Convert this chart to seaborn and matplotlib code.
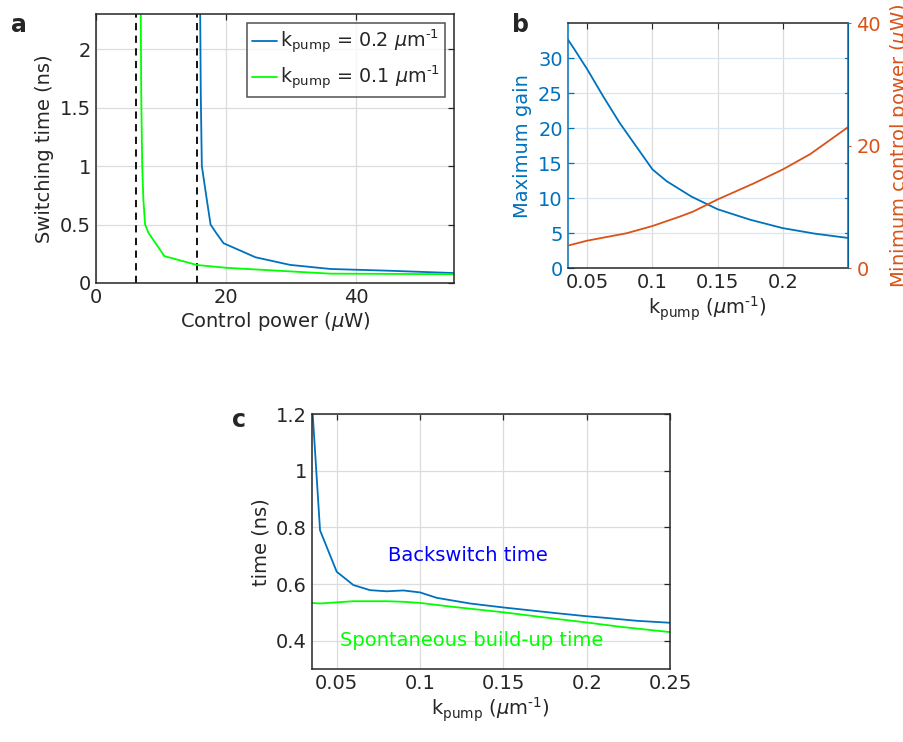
import numpy as np
import pandas as pd
import matplotlib
matplotlib.use("Agg")
import matplotlib.pyplot as plt
import seaborn as sns

sns.set_style("white")
plt.rcParams["font.family"] = ["DejaVu Sans"]
plt.rcParams["mathtext.fontset"] = "dejavusans"

# ------------------------------------------
# DATA
# ------------------------------------------

# panel a: switching time vs control power
power_k02 = [16.0, 16.1, 16.26, 16.5, 17.03, 17.6, 18.5, 19.6, 24.5, 29.8, 36.0, 45.0, 55.0]
switch_k02 = [2.35, 1.6, 1.0, 0.91, 0.71, 0.5, 0.425, 0.34, 0.22, 0.155, 0.12, 0.105, 0.085]
power_k01 = [6.87, 6.95, 7.1, 7.28, 7.54, 8.05, 10.5, 15.5, 20.0, 28.0, 36.0, 45.0, 55.0]
switch_k01 = [2.35, 1.6, 1.0, 0.71, 0.5, 0.43, 0.23, 0.154, 0.13, 0.105, 0.08, 0.078, 0.075]
threshold_power = [6.2, 15.5]

# panel b: max gain and min control power vs k_pump
k_gain = [0.035, 0.040, 0.050, 0.062, 0.075, 0.100, 0.111, 0.130, 0.150, 0.175, 0.200, 0.225, 0.250]
max_gain = [32.7, 31.3, 28.4, 24.6, 20.7, 14.1, 12.4, 10.2, 8.4, 6.9, 5.7, 4.9, 4.3]
k_power = [0.035, 0.050, 0.080, 0.100, 0.121, 0.131, 0.150, 0.1775, 0.200, 0.221, 0.250]
min_power = [3.65, 4.47, 5.67, 6.86, 8.4, 9.2, 11.2, 13.8, 16.1, 18.6, 23.0]

# panel c: backswitch and spontaneous build-up time vs k_pump
k_back = [0.035, 0.0356, 0.04, 0.05, 0.06, 0.07, 0.08, 0.09, 0.10, 0.11, 0.13, 0.15, 0.18, 0.20, 0.21, 0.23, 0.25]
back_time = [1.3, 1.2, 0.79, 0.644, 0.597, 0.579, 0.575, 0.578, 0.571, 0.552, 0.532, 0.518, 0.499, 0.487, 0.482, 0.471, 0.464]
k_spont = [0.035, 0.04, 0.06, 0.08, 0.09, 0.10, 0.12, 0.15, 0.18, 0.20, 0.22, 0.25]
spont_time = [0.534, 0.532, 0.54, 0.54, 0.538, 0.534, 0.52, 0.501, 0.479, 0.465, 0.45, 0.431]

BLUE = "#0072BD"
ORANGE = "#D95319"
GREEN = "#00FF00"
DARK = "#262626"
FS = 14
KPUMP = r"k$_{\mathrm{pump}}$"
INV_UM = r"$\mu$m$^{\text{-1}}$"

fig = plt.figure(figsize=(9.04, 7.42), dpi=100)


def style_axes(ax):
    ax.grid(True, color="#dcdcdc", lw=0.9)
    ax.set_axisbelow(True)
    ax.tick_params(direction="in", top=True, right=True, length=4,
                   labelsize=FS, colors=DARK, width=0.9)
    for s in ax.spines.values():
        s.set_color(DARK)
        s.set_linewidth(1.1)


def draw(ax, x, y, color, label=None):
    d = pd.DataFrame({"x": x, "y": y})
    sns.lineplot(data=d, x="x", y="y", ax=ax, color=color, lw=1.3,
                 sort=False, estimator=None, label=label)


# ------------------------------------------
# PANEL a
# ------------------------------------------
ax_a = fig.add_axes([0.1062, 0.6186, 0.396, 0.3625])
style_axes(ax_a)
for xv in threshold_power:
    ax_a.axvline(xv, color="black", ls=(0, (4, 3)), lw=1.3)
draw(ax_a, power_k02, switch_k02, BLUE, KPUMP + " = 0.2 " + INV_UM)
draw(ax_a, power_k01, switch_k01, GREEN, KPUMP + " = 0.1 " + INV_UM)
ax_a.set_xlim(0, 55)
ax_a.set_ylim(0, 2.3)
ax_a.set_xticks([0, 20, 40])
ax_a.set_yticks([0, 0.5, 1, 1.5, 2])
ax_a.set_yticklabels(["0", "0.5", "1", "1.5", "2"])
ax_a.set_xlabel(r"Control power ($\mu$W)", fontsize=FS, color=DARK, labelpad=2)
ax_a.set_ylabel("Switching time (ns)", fontsize=FS, color=DARK, labelpad=4)
leg = ax_a.legend(loc="upper right", fontsize=13.8, frameon=True, fancybox=False,
                  handlelength=1.3, handletextpad=0.12, borderpad=0.3,
                  labelspacing=0.38, borderaxespad=0.45)
leg.get_frame().set_edgecolor(DARK)
leg.get_frame().set_linewidth(1.1)
fig.text(0.012, 0.966, "a", fontsize=17, fontweight="bold", va="center")

# ------------------------------------------
# PANEL b
# ------------------------------------------
ax_b = fig.add_axes([0.628, 0.6388, 0.310, 0.330])
ax_b.grid(True, axis="x", color="#dcdcdc", lw=0.9)
ax_b.grid(True, axis="y", color="#d6e6f2", lw=0.9)
ax_b.set_axisbelow(True)
draw(ax_b, k_gain, max_gain, BLUE)
ax_b.set_xlim(0.035, 0.25)
ax_b.set_ylim(0, 35)
ax_b.set_xticks([0.05, 0.1, 0.15, 0.2])
ax_b.set_xticklabels(["0.05", "0.1", "0.15", "0.2"])
ax_b.set_yticks([0, 5, 10, 15, 20, 25, 30])
ax_b.tick_params(axis="x", direction="in", top=True, length=4, labelsize=FS, colors=DARK)
ax_b.tick_params(axis="y", direction="in", right=False, length=4, labelsize=FS,
                 colors=BLUE, width=0.9)
ax_b.set_xlabel(KPUMP + " (" + INV_UM + ")", fontsize=FS, color=DARK, labelpad=2)
ax_b.set_ylabel("Maximum gain", fontsize=FS, color=BLUE, labelpad=4)
for side in ["top", "bottom"]:
    ax_b.spines[side].set_color(DARK)
    ax_b.spines[side].set_linewidth(1.1)
ax_b.spines["left"].set_color(BLUE)
ax_b.spines["left"].set_linewidth(1.1)

ax_b2 = ax_b.twinx()
draw(ax_b2, k_power, min_power, ORANGE)
ax_b2.set_ylim(0, 40)
ax_b2.set_yticks([0, 20, 40])
ax_b2.tick_params(axis="y", direction="out", length=2, labelsize=FS, colors=ORANGE, pad=4)
ax_b2.set_ylabel(r"Minimum control power ($\mu$W)", fontsize=FS, color=ORANGE,
                 rotation=90, labelpad=5)
ax_b2.spines["right"].set_color(BLUE)
ax_b2.spines["right"].set_linewidth(1.1)
for side in ["top", "bottom", "left"]:
    ax_b2.spines[side].set_visible(False)
# mirrored left-axis ticks on the right spine
for yv in [5, 10, 15, 20, 25, 30]:
    ax_b.plot([0.25 - 0.0025, 0.25], [yv, yv], color=BLUE, lw=0.9, clip_on=False)
fig.text(0.566, 0.966, "b", fontsize=17, fontweight="bold", va="center")

# ------------------------------------------
# PANEL c
# ------------------------------------------
ax_c = fig.add_axes([0.3448, 0.098, 0.3964, 0.344])
style_axes(ax_c)
draw(ax_c, k_back, back_time, BLUE)
draw(ax_c, k_spont, spont_time, GREEN)
ax_c.set_xlim(0.035, 0.25)
ax_c.set_ylim(0.3, 1.2)
ax_c.set_xticks([0.05, 0.1, 0.15, 0.2, 0.25])
ax_c.set_xticklabels(["0.05", "0.1", "0.15", "0.2", "0.25"])
ax_c.set_yticks([0.4, 0.6, 0.8, 1.0, 1.2])
ax_c.set_yticklabels(["0.4", "0.6", "0.8", "1", "1.2"])
ax_c.set_xlabel(KPUMP + " (" + INV_UM + ")", fontsize=FS, color=DARK, labelpad=2)
ax_c.set_ylabel("time (ns)", fontsize=FS, color=DARK, labelpad=4)
ax_c.text(0.129, 0.70, "Backswitch time", color="#0000FF", fontsize=FS, ha="center", va="center")
ax_c.text(0.131, 0.40, "Spontaneous build-up time", color=GREEN, fontsize=FS, ha="center", va="center")
fig.text(0.257, 0.434, "c", fontsize=17, fontweight="bold", va="center")

fig.savefig("out.png", dpi=100)
